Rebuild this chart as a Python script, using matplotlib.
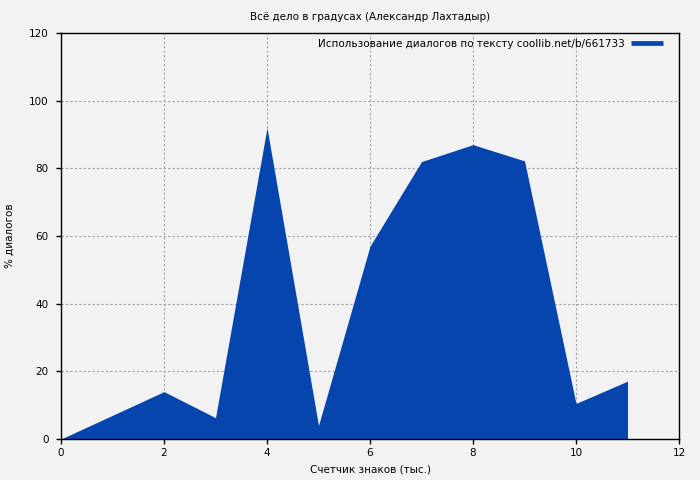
import matplotlib
matplotlib.use("Agg")
import matplotlib.pyplot as plt
from matplotlib.lines import Line2D

x_values = [0, 2, 3, 4, 5, 6, 7, 8, 9, 10, 11]
y_values = [0, 14.0, 6.3, 92, 4, 57, 82, 87, 82.2, 10.5, 17.1]
title = "Всё дело в градусах (Александр Лахтадыр)"
legend_label = "Использование диалогов по тексту coollib.net/b/661733"
xlabel = "Счетчик знаков (тыс.)"
ylabel = "% диалогов"
x_ticks = [0, 2, 4, 6, 8, 10, 12]
y_ticks = [0, 20, 40, 60, 80, 100, 120]

fill_color = "#0645AD"
bg = "#f2f2f2"

fig = plt.figure(figsize=(7, 4.8), dpi=100, facecolor=bg)
ax = fig.add_axes([61/700, 1-439/480, (679-61)/700, (439-33)/480])
ax.set_facecolor(bg)

ax.fill_between(x_values, y_values, 0, color=fill_color, lw=0, zorder=2)

ax.set_xlim(0, 12)
ax.set_ylim(0, 120)
ax.set_xticks(x_ticks)
ax.set_yticks(y_ticks)
ax.tick_params(direction="out", length=3.5, width=1, labelsize=7.5, pad=5.5)
ax.tick_params(axis="x", pad=3)
ax.grid(True, color="#a0a0a0", linestyle=(0, (2, 2)), linewidth=0.8, zorder=1)
for s in ax.spines.values():
    s.set_linewidth(1)
    s.set_color("black")
    s.set_zorder(5)

ax.set_title(title, fontsize=7.5, pad=9)
ax.set_xlabel(xlabel, fontsize=7.5, labelpad=5)
ax.set_ylabel(ylabel, fontsize=7.5, labelpad=10)

handle = Line2D([], [], color=fill_color, lw=3.4, solid_capstyle="butt")
leg = ax.legend([handle], [legend_label], loc="upper right", frameon=False,
                markerfirst=False, fontsize=7.5, handlelength=3.1, handletextpad=0.6,
                borderaxespad=0.0, bbox_to_anchor=(1-12/618, 1-1.5/406))

fig.savefig("out.png", dpi=100, facecolor=bg)
